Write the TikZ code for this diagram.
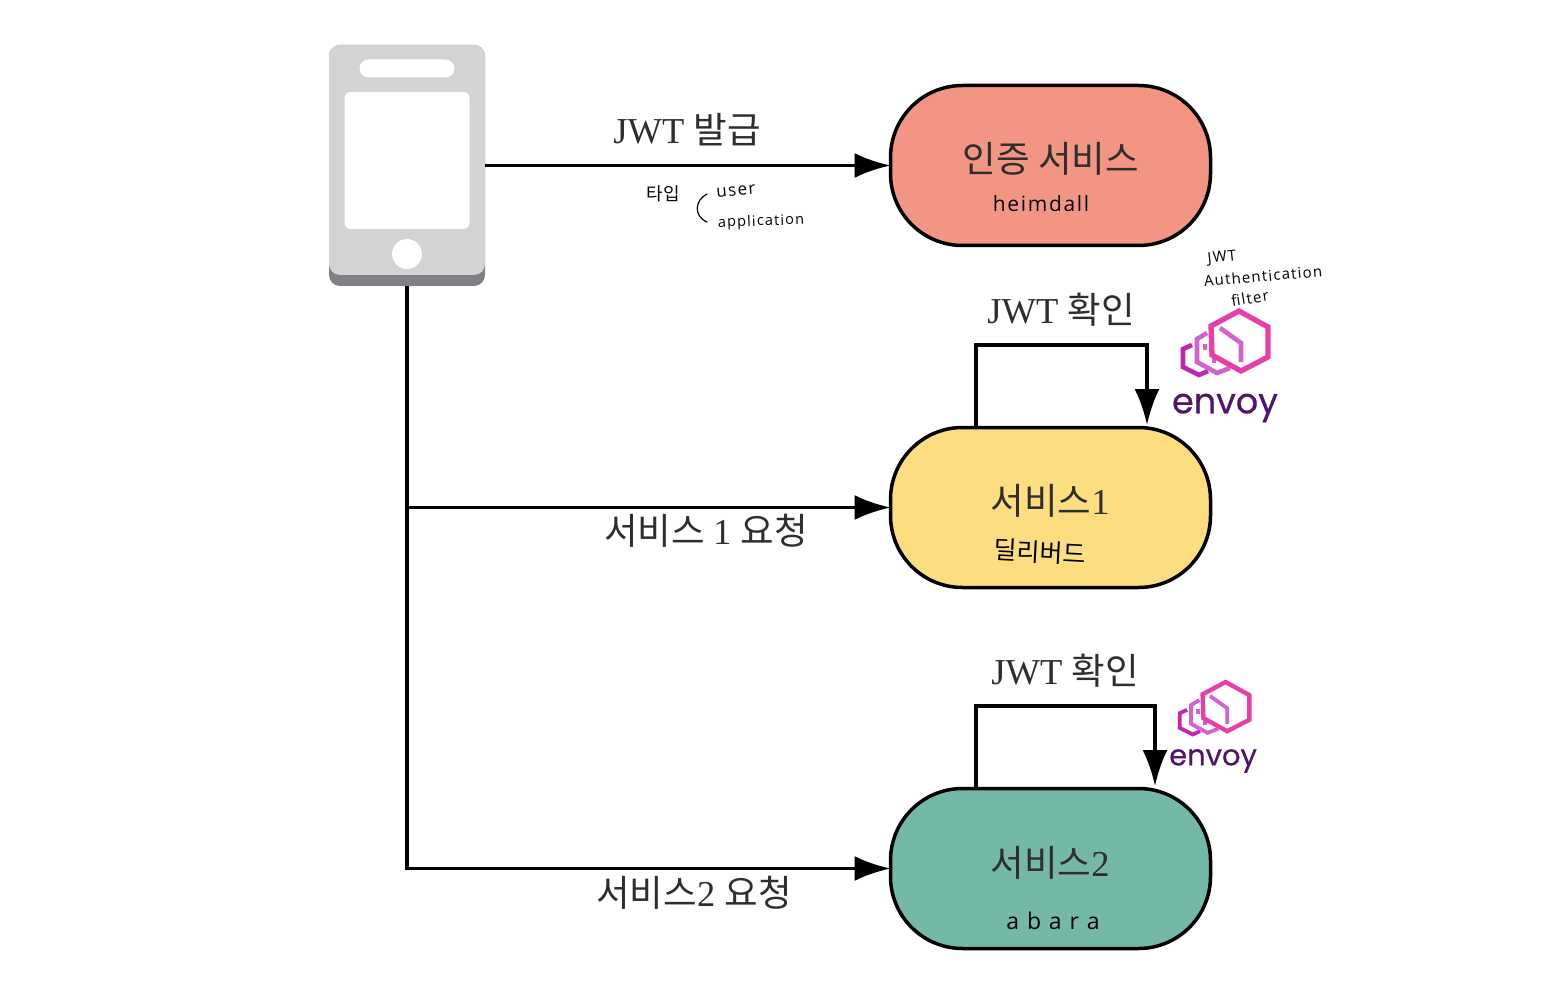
\documentclass[tikz,border=0pt]{standalone}
\usepackage{fontspec}
\usetikzlibrary{arrows.meta}
\setmainfont{Liberation Serif}
\newfontfamily\krfont{Noto Sans CJK KR}
\newfontfamily\handfont[LetterSpace=8]{Open Sans}
\newfontfamily\logofont[FakeBold=0.5]{Poppins}
\definecolor{authred}{HTML}{F29683}
\definecolor{svcyellow}{HTML}{FCDD80}
\definecolor{svcgreen}{HTML}{74B8A7}
\definecolor{phonegray}{HTML}{D2D3D4}
\definecolor{phonedark}{HTML}{808184}
\definecolor{labelgray}{HTML}{2E2E2E}
\definecolor{envoypink}{HTML}{E63FA9}
\definecolor{envoylilac}{HTML}{D163CF}
\definecolor{envoymag}{HTML}{BF27AE}
\definecolor{envoyword}{HTML}{4E1470}
\tikzset{
	flow/.style={line width=3.5pt, -{Latex[length=36pt,width=25pt]}},
	svcbox/.style={draw, line width=3.5pt, rounded corners=72pt, minimum width=320pt, minimum height=160pt, inner sep=0pt, outer sep=0pt},
	part/.style={inner sep=0pt, outer sep=0pt},
	biglabel/.style={text=labelgray, inner sep=0pt, font=\fontsize{36.5}{40}\selectfont},
	hand/.style={inner sep=0pt, font=\handfont\fontsize{17}{20}\selectfont},
	wordmark/.style={text=envoyword, inner sep=0pt},
	pics/envoylogo/.style={code={
		\draw[envoymag, line width=#1pt] (11,34) -- (2,38) -- (2,56) -- (18,64) -- (27,60);
		\draw[envoylilac, line width=#1pt] (26,22) -- (16,28) -- (16,51) -- (36,62) -- (49,57);
		\draw[envoylilac, line width=#1pt] (24,33) -- (24,39) (33,46) -- (33,52);
		\draw[envoypink, line width=1.15*#1pt, fill=white, line join=miter] (58,0) -- (87,16) -- (87,46) -- (60,60) -- (31,44) -- (30,15) -- cycle;
		\draw[envoylilac, line width=#1pt] (39,17) -- (60,32) -- (60,51);
	}}
}
\begin{document}
\begin{tikzpicture}[x=1pt,y=-1pt]
	\useasboundingbox (0,0) rectangle (1553,1000);
	\fill[white] (0,0) rectangle (1553,1000);

	\node[part, fill=phonedark, rounded corners=11pt, minimum width=156pt, minimum height=241pt] (phone) at (407,165.5) {};
	\node[part, fill=phonegray, rounded corners=11pt, minimum width=156pt, minimum height=230pt] (phonebody) at (407,160) {};
	\node[part, fill=white, rounded corners=9pt, minimum width=95pt, minimum height=18pt] (phonespeaker) at (407,68.5) {};
	\node[part, fill=white, rounded corners=6pt, minimum width=125pt, minimum height=137pt] (phonescreen) at (407,160.5) {};
	\node[part, fill=white, circle, minimum size=30pt] (phonebutton) at (407,254) {};

	\node[svcbox, fill=authred] (auth) at (1050.5,165.5) {};
	\node[svcbox, fill=svcyellow] (svc1) at (1050.5,507.5) {};
	\node[svcbox, fill=svcgreen] (svc2) at (1050.5,868.5) {};

	\node[biglabel] (authname) at (1051,159) {\krfont 인증 서비스};
	\node[biglabel] (svc1name) at (1050,501) {\krfont 서비스\rmfamily 1};
	\node[biglabel] (svc2name) at (1050,863) {\krfont 서비스\rmfamily 2};

	\node[hand, font=\handfont\fontsize{21}{24}\selectfont] (authcode) at (1041,204) {heimdall};
	\node[hand, rotate=-3, font=\krfont\fontsize{25}{28}\selectfont] (svc1code) at (1040,552) {딜리버드};
	\node[hand, font=\handfont\fontsize{23}{26}\selectfont] (svc2code) at (1053,921) {a b a r a};

	\draw[flow] (phone) -- (auth);
	\draw[flow] (phone.south) |- (svc2.west);
	\draw[flow] (phone.south |- svc1.west) -- (svc1.west);

	\coordinate (checkstarta) at (976,427);
	\coordinate (checkenda) at (1147,425);
	\coordinate (checkstartb) at (976,788);
	\coordinate (checkendb) at (1155,786);
	\draw[flow] (checkstarta) -- ++(0,-82) -| (checkenda);
	\draw[flow] (checkstartb) -- ++(0,-82) -| (checkendb);

	\node[biglabel] (issue) at (687,130) {JWT {\krfont 발급}};
	\node[biglabel] (checka) at (1061,310) {JWT {\krfont 확인}};
	\node[biglabel] (checkb) at (1065,671) {JWT {\krfont 확인}};
	\node[biglabel] (reqa) at (706,531) {\krfont 서비스 \rmfamily 1 \krfont 요청};
	\node[biglabel] (reqb) at (694,893) {\krfont 서비스\rmfamily 2 \krfont 요청};

	\node[hand, font=\krfont\fontsize{18}{20}\selectfont] (typename) at (663,194) {타입};
	\node[hand, rotate=5] (typeuser) at (736,191) {user};
	\node[hand, rotate=2, font=\handfont\fontsize{14.5}{18}\selectfont] (typeapp) at (761,222) {application};
	\draw[line width=1.2pt, line cap=round] (707,194) .. controls (695,200) and (693,216) .. (707,222);

	\node[hand, rotate=6, font=\handfont\fontsize{15}{18}\selectfont] (filtera) at (1222,258) {JWT};
	\node[hand, rotate=5, font=\handfont\fontsize{15}{18}\selectfont] (filterb) at (1263,276) {Authentication};
	\node[hand, rotate=9, font=\handfont\fontsize{15}{18}\selectfont] (filterc) at (1250,298) {filter};

	\pic at (1181,311) {envoylogo=4.6};
	\node[wordmark, font=\logofont\fontsize{35}{40}\selectfont] (envoya) at (1225,408) {envoy};
	\pic[scale=.82] at (1178,682) {envoylogo=3.8};
	\node[wordmark, font=\logofont\fontsize{29}{34}\selectfont] (envoyb) at (1213,761) {envoy};
\end{tikzpicture}
\end{document}
